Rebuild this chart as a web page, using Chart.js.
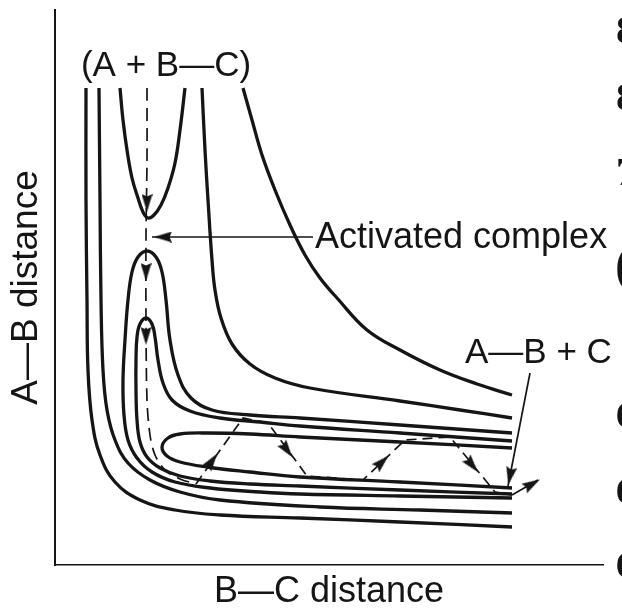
<!DOCTYPE html>
<html>
<head>
<meta charset="utf-8">
<title>A + B—C potential energy surface</title>
<script src="https://cdn.jsdelivr.net/npm/chart.js@4.4.1/dist/chart.umd.min.js"></script>
<style>
  html, body { margin: 0; padding: 0; background: #fff; }
  canvas { display: block; }
</style>
</head>
<body>
<canvas id="pes" width="622" height="610"></canvas>
<script>
// x = B—C distance, y = A—B distance (arbitrary units)

// outer repulsive walls (L-shaped contours)
const wall1X = [31, 31, 32, 33, 37, 45, 60, 85, 120, 165, 245, 345, 457];
const wall1Y = [477, 365, 265, 195, 145, 110, 83, 65, 55, 50, 47, 43, 38];
const wall2X = [44, 45, 46, 48, 52, 60, 73, 95, 125, 165, 265, 365, 457];
const wall2Y = [477, 365, 265, 195, 155, 125, 102, 85, 73, 65, 58, 55, 52];

// reactant valley (U, open upwards)
const reactantX = [65, 68, 72, 77, 83, 88, 93, 99, 106, 113, 120, 125, 130];
const reactantY = [477, 445, 415, 387, 367, 353, 347, 350, 360, 377, 402, 435, 477];

// product valley contours
const outerLoopX = [457, 345, 245, 205, 155, 120, 97, 82, 73, 69, 68, 70, 73, 77, 83, 92, 101, 107, 111, 115, 123, 136, 157, 195, 245, 345, 457];
const outerLoopY = [67, 69, 71, 73, 77, 83, 93, 107, 125, 150, 185, 225, 265, 293, 308, 314, 308, 293, 265, 225, 190, 167, 155, 150, 147, 140, 132];
const innerLoopX = [457, 345, 245, 195, 155, 125, 105, 92, 85, 82, 81, 81, 82, 85, 91, 97, 100, 103, 108, 117, 135, 165, 205, 245, 345, 457];
const innerLoopY = [71, 75, 79, 81, 84, 89, 97, 108, 123, 145, 175, 205, 228, 241, 247, 241, 228, 205, 182, 165, 154, 147, 143, 139, 132, 124];
const productX = [457, 345, 245, 195, 152, 125, 113, 107, 112, 125, 152, 195, 245, 345, 457];
const productY = [117, 123, 128, 131, 132, 131, 127, 118, 109, 103, 98, 93, 88, 83, 77];

// upper walls
const upperWallX = [147, 150, 153, 157, 160, 166, 177, 195, 220, 255, 345, 405, 457];
const upperWallY = [477, 415, 365, 305, 275, 247, 221, 201, 187, 177, 164, 155, 147];
const farWallX = [188, 197, 207, 220, 235, 250, 265, 282, 312, 345, 385, 422, 457];
const farWallY = [477, 445, 410, 375, 340, 310, 287, 267, 235, 215, 195, 181, 170];

// reaction trajectory (dashed)
const descentX = [92, 92, 91, 91, 92, 95, 100, 110, 125, 141];
const descentY = [477, 405, 330, 245, 165, 130, 110, 95, 86, 81];
const zigzagX = [141, 188, 213, 252, 308, 350, 395, 440, 457];
const zigzagY = [81, 147, 142, 89, 85, 125, 128, 73, 70];
const exitX = [457, 483];
const exitY = [70, 85];

// label pointers
const complexPointerX = [97, 258];
const complexPointerY = [328, 328];
const productPointerX = [475, 453];
const productPointerY = [192, 79];

// arrowheads: position and direction of travel
const arrowX = [92, 91, 91, 157, 232, 327, 417, 455, 477, 108];
const arrowY = [362, 293, 229, 104, 115, 103, 100, 89, 81, 328];
const arrowDx = [0, 0, 0, 47, 39, 42, 45, -23, 26, -1];
const arrowDy = [-1, -1, -1, 66, -53, 40, -55, -117, 15, 0];

// text on the figure
const noteText = ['(A + B—C)', 'Activated complex', 'A—B + C'];
const noteX = [111, 260, 410];
const noteY = [489, 317, 202];

// cut-off characters of the neighbouring page at the right edge
const edgeText = ['8', '8', '7', '(', '6', '6', '6'];
const edgeX = [561, 561, 561, 560, 561, 561, 561];
const edgeY = [522, 455, 380, 283, 138, 62, -12];

const INK = '#151515';
const SANS = '"Liberation Sans", Arial, Helvetica, sans-serif';

function pts(xs, ys) {
    return xs.map((v, i) => ({ x: v, y: ys[i] }));
}

function contour(xs, ys) {
    return {
        data: pts(xs, ys),
        showLine: true,
        borderColor: INK,
        borderWidth: 3.3,
        pointRadius: 0,
        tension: 0.4,
        fill: false
    };
}

function thinLine(xs, ys, dash, tension) {
    return {
        data: pts(xs, ys),
        showLine: true,
        borderColor: INK,
        borderWidth: 1.7,
        borderDash: dash,
        pointRadius: 0,
        tension: tension,
        fill: false
    };
}

// narrow arrowhead used as point style, pointing up
const arrowImg = document.createElement('canvas');
arrowImg.width = 11;
arrowImg.height = 18;
(function () {
    const c = arrowImg.getContext('2d');
    c.fillStyle = INK;
    c.beginPath();
    c.moveTo(5.5, 0);
    c.lineTo(11, 18);
    c.lineTo(5.5, 15.5);
    c.lineTo(0, 18);
    c.closePath();
    c.fill();
})();

const notesPlugin = {
    id: 'notes',
    afterDatasetsDraw(chart) {
        const { ctx } = chart;
        const { x, y } = chart.scales;
        const fonts = ['35px ' + SANS, '36px ' + SANS, '35px ' + SANS];
        const aligns = ['center', 'left', 'left'];
        ctx.save();
        ctx.fillStyle = INK;
        ctx.textBaseline = 'alphabetic';
        noteText.forEach((t, i) => {
            ctx.font = fonts[i];
            ctx.textAlign = aligns[i];
            ctx.fillText(t, x.getPixelForValue(noteX[i]), y.getPixelForValue(noteY[i]));
        });
        const edgeFonts = [41, 41, 41, 52, 36, 36, 36];
        ctx.textAlign = 'left';
        edgeText.forEach((t, i) => {
            ctx.font = 'bold ' + edgeFonts[i] + 'px "Liberation Serif", "Times New Roman", serif';
            ctx.fillText(t, x.getPixelForValue(edgeX[i]), y.getPixelForValue(edgeY[i]));
        });
        ctx.restore();
    }
};

const arrowSet = {
    data: pts(arrowX, arrowY),
    showLine: false,
    pointStyle: arrowImg,
    pointRadius: 8,
    pointHoverRadius: 8,
    rotation(ctx) {
        const i = ctx.dataIndex;
        if (i === undefined) return 0;
        const { x, y } = ctx.chart.scales;
        const dxp = x.getPixelForValue(arrowX[i] + arrowDx[i]) - x.getPixelForValue(arrowX[i]);
        const dyp = y.getPixelForValue(arrowY[i] + arrowDy[i]) - y.getPixelForValue(arrowY[i]);
        return Math.atan2(dxp, -dyp) * 180 / Math.PI;
    }
};

new Chart(document.getElementById('pes'), {
    type: 'scatter',
    data: {
        datasets: [
            contour(wall1X, wall1Y),
            contour(wall2X, wall2Y),
            contour(reactantX, reactantY),
            contour(outerLoopX, outerLoopY),
            contour(innerLoopX, innerLoopY),
            contour(productX, productY),
            contour(upperWallX, upperWallY),
            contour(farWallX, farWallY),
            thinLine(descentX, descentY, [13, 7], 0.3),
            thinLine(zigzagX, zigzagY, [10, 6], 0),
            thinLine(exitX, exitY, [], 0),
            thinLine(complexPointerX, complexPointerY, [], 0),
            thinLine(productPointerX, productPointerY, [], 0),
            arrowSet
        ]
    },
    options: {
        responsive: false,
        devicePixelRatio: 1,
        animation: false,
        events: [],
        layout: { padding: { top: 10, right: 19, left: 0, bottom: 0 } },
        plugins: {
            legend: { display: false },
            tooltip: { enabled: false }
        },
        scales: {
            x: {
                type: 'linear',
                min: 0,
                max: 548,
                ticks: { display: false },
                grid: { display: false, drawTicks: false },
                border: { display: true, color: INK, width: 1.6 },
                title: {
                    display: true,
                    text: 'B—C distance',
                    color: INK,
                    font: { family: SANS, size: 36, lineHeight: 1 },
                    padding: { top: 9, bottom: 0 }
                }
            },
            y: {
                type: 'linear',
                min: 0,
                max: 555,
                ticks: { display: false },
                grid: { display: false, drawTicks: false },
                border: { display: true, color: INK, width: 2 },
                title: {
                    display: true,
                    text: 'A—B distance',
                    color: INK,
                    font: { family: SANS, size: 37, lineHeight: 1 },
                    padding: { top: 8, bottom: 10 }
                }
            }
        }
    },
    plugins: [notesPlugin]
});
</script>
</body>
</html>
